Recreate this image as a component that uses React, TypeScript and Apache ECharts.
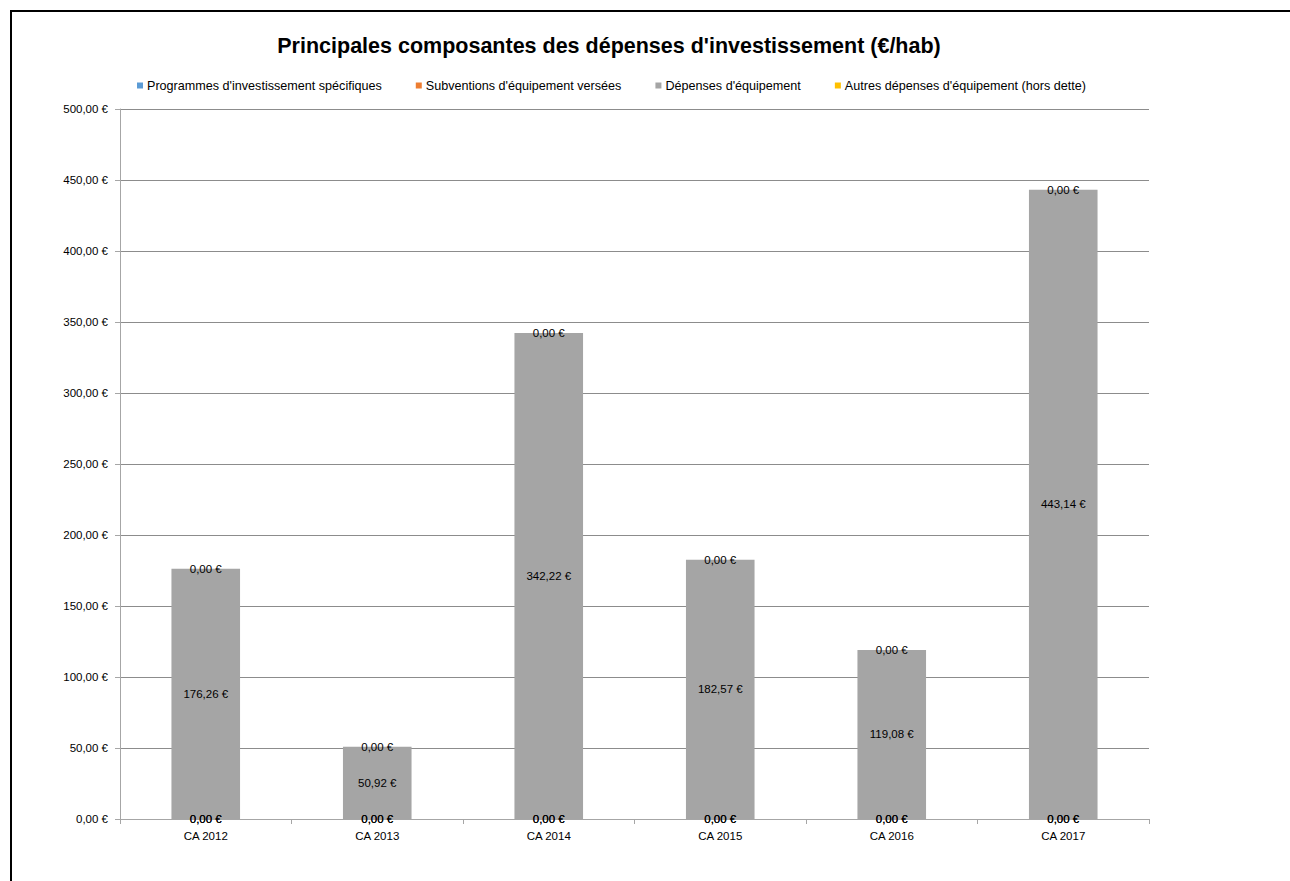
import React, { useEffect, useRef } from "react";
import * as echarts from "echarts";

const categories = ["CA 2012", "CA 2013", "CA 2014", "CA 2015", "CA 2016", "CA 2017"];
const programmes = [0, 0, 0, 0, 0, 0];
const subventions = [0, 0, 0, 0, 0, 0];
const depensesEquipement = [176.26, 50.92, 342.22, 182.57, 119.08, 443.14];
const autres = [0, 0, 0, 0, 0, 0];
const seriesNames = [
  "Programmes d'investissement spécifiques",
  "Subventions d'équipement versées",
  "Dépenses d'équipement",
  "Autres dépenses d'équipement (hors dette)",
];
const colors = ["#5B9BD5", "#ED7D31", "#A5A5A5", "#FFC000"];

const FONT = "Liberation Sans";
const fmt = (v: number) => v.toFixed(2).replace(".", ",") + " €";

export default function App() {
  const ref = useRef<HTMLDivElement>(null);
  useEffect(() => {
    document.body.style.margin = "0";
    const chart = echarts.init(ref.current!, null, { renderer: "svg" });
    const datasets = [programmes, subventions, depensesEquipement, autres];
    chart.setOption({
      animation: false,
      backgroundColor: "#ffffff",
      textStyle: { fontFamily: FONT },
      title: {
        text: "Principales composantes des dépenses d'investissement (€/hab)",
        left: 604,
        top: 30,
        textAlign: "center",
        textStyle: { fontFamily: FONT, fontSize: 21.5, fontWeight: "bold", color: "#000000" },
      },
      legend: {
        left: 132,
        top: 74,
        itemWidth: 6,
        itemHeight: 6,
        itemGap: 34,
        icon: "rect",
        textStyle: { fontFamily: FONT, fontSize: 12.6, color: "#000000", padding: [0, 0, 0, -1] },
        data: seriesNames,
      },
      grid: { left: 120, right: 141, top: 109, bottom: 62, containLabel: false },
      xAxis: {
        type: "category",
        data: categories,
        axisLine: { lineStyle: { color: "#A6A6A6", width: 1 } },
        axisTick: { show: true, alignWithLabel: false, length: 5, inside: false, lineStyle: { color: "#A6A6A6" } },
        axisLabel: { fontFamily: FONT, fontSize: 11.5, color: "#000000", margin: 11 },
      },
      yAxis: {
        type: "value",
        min: 0,
        max: 500,
        interval: 50,
        axisLine: { show: true, lineStyle: { color: "#A6A6A6" } },
        axisTick: { show: true, length: 5, lineStyle: { color: "#A6A6A6" } },
        axisLabel: { fontFamily: FONT, fontSize: 11.5, color: "#000000", margin: 12, formatter: (v: number) => fmt(v) },
        splitLine: { lineStyle: { color: "#8C8C8C", width: 1 } },
      },
      series: datasets.map((d, i) => ({
        name: seriesNames[i],
        type: "bar",
        stack: "total",
        data: d,
        barWidth: "40%",
        itemStyle: { color: colors[i] },
        label: {
          show: true,
          position: "inside",
          formatter: (p: any) => fmt(p.value),
          fontFamily: FONT,
          fontSize: 11.5,
          color: "#000000",
        },
        labelLayout: { hideOverlap: false },
      })),
    });
    return () => chart.dispose();
  }, []);
  return (
    <div style={{ position: "relative", width: 1290, height: 881, overflow: "hidden", background: "#fff" }}>
      <div ref={ref} style={{ position: "absolute", left: 0, top: 0, width: 1290, height: 881 }} />
      <div
        style={{
          position: "absolute",
          left: 10,
          top: 10,
          width: 1300,
          height: 900,
          borderLeft: "2px solid #000",
          borderTop: "2px solid #000",
          pointerEvents: "none",
        }}
      />
    </div>
  );
}
